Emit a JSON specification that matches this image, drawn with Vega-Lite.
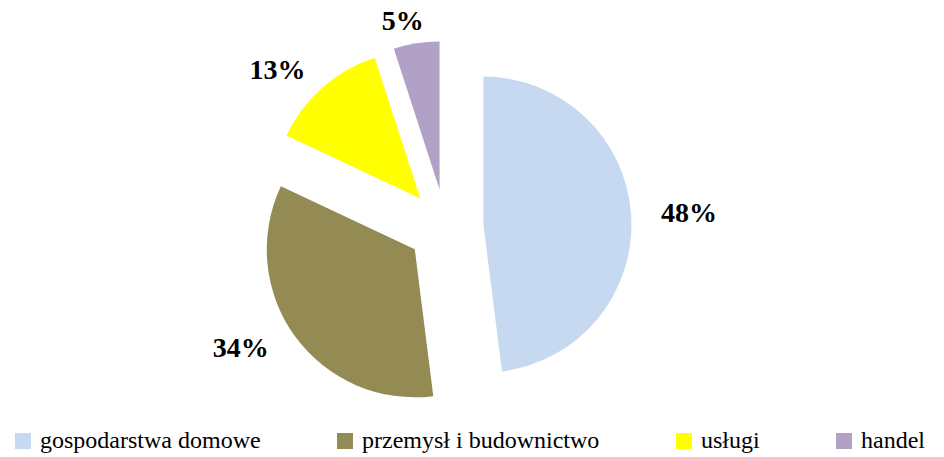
{
  "$schema": "https://vega.github.io/schema/vega-lite/v6.json",
  "width": 891,
  "height": 454,
  "autosize": {"type": "none"},
  "padding": {"left": 0, "top": 0, "right": 53, "bottom": 3},
  "background": "white",
  "config": {"view": {"stroke": null}, "legend": {"labelFont": "Liberation Serif"}},
  "data": {
    "values": [
      {"sektor": "gospodarstwa domowe", "udzial": 48, "kolejnosc": 1},
      {"sektor": "przemysł i budownictwo", "udzial": 34, "kolejnosc": 2},
      {"sektor": "usługi", "udzial": 13, "kolejnosc": 3},
      {"sektor": "handel", "udzial": 5, "kolejnosc": 4}
    ]
  },
  "transform": [
    {"window": [{"op": "sum", "field": "udzial", "as": "cum"}], "sort": [{"field": "kolejnosc"}], "frame": [null, 0]},
    {"joinaggregate": [{"op": "sum", "field": "udzial", "as": "total"}]},
    {"calculate": "2*PI*(datum.cum - datum.udzial/2)/datum.total", "as": "mid"},
    {"calculate": "datum.udzial + '%'", "as": "etykieta"}
  ],
  "encoding": {
    "theta": {"field": "udzial", "type": "quantitative", "stack": true},
    "order": {"field": "kolejnosc", "type": "quantitative"},
    "color": {
      "field": "sektor",
      "type": "nominal",
      "scale": {
        "domain": ["gospodarstwa domowe", "przemysł i budownictwo", "usługi", "handel"],
        "range": ["#C6D9F1", "#948A54", "#FFFF00", "#B2A1C7"]
      },
      "legend": {
        "orient": "none",
        "legendX": 11,
        "legendY": 429,
        "direction": "horizontal",
        "columns": 4,
        "title": null,
        "symbolType": "square",
        "symbolSize": 256,
        "symbolStrokeWidth": 0,
        "symbolOpacity": 1,
        "labelFont": "Liberation Serif",
        "labelFontSize": 24,
        "labelColor": "black",
        "columnPadding": 72,
        "labelOffset": 5,
        "labelLimit": 400
      }
    }
  },
  "layer": [
    {
      "mark": {
        "type": "arc",
        "outerRadius": 148,
        "xOffset": {"expr": "38*sin(datum.mid)"},
        "yOffset": {"expr": "-38*cos(datum.mid)"}
      }
    },
    {
      "mark": {
        "type": "text",
        "radius": 0,
        "xOffset": {"expr": "-4 + 248*sin(datum.mid)"},
        "yOffset": {"expr": "-208*cos(datum.mid)"},
        "font": "Liberation Serif",
        "fontSize": 28,
        "fontWeight": "bold"
      },
      "encoding": {
        "text": {"field": "etykieta", "type": "nominal"},
        "color": {"value": "black"}
      }
    }
  ]
}
